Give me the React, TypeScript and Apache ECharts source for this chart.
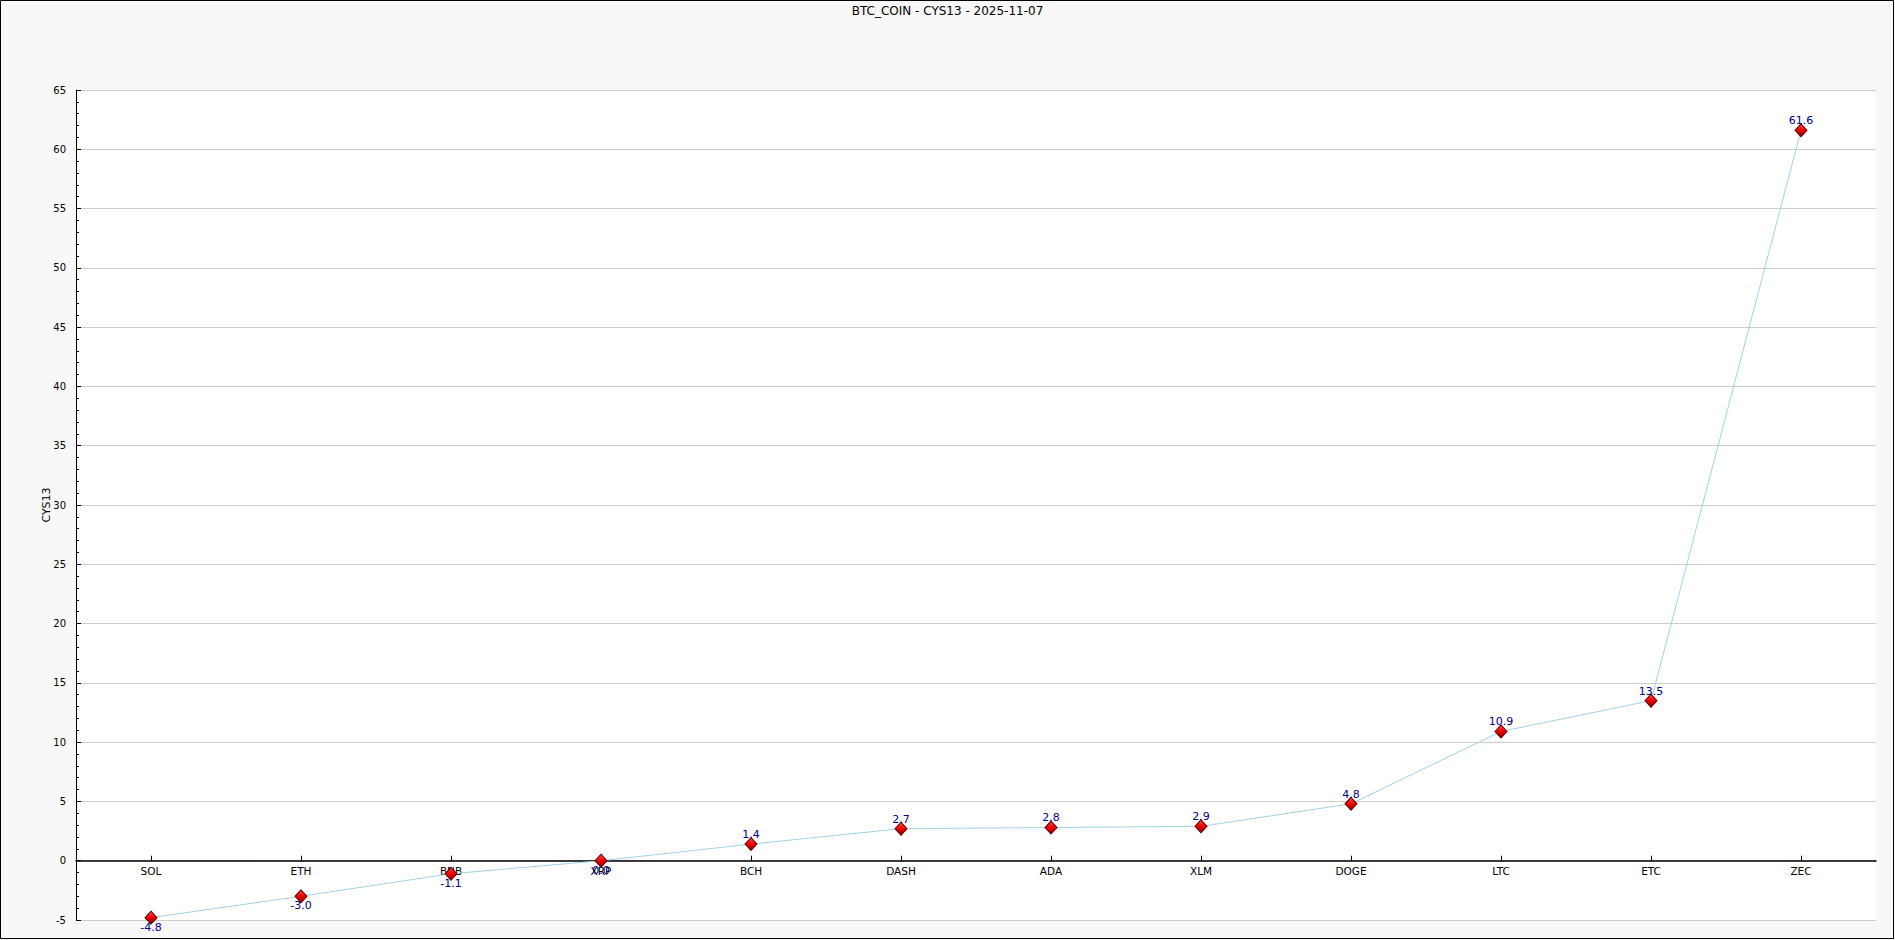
import React, { useEffect, useRef } from "react";
import * as echarts from "echarts";

const TITLE = "BTC_COIN - CYS13 - 2025-11-07";
const Y_NAME = "CYS13";
const categories = ["SOL", "ETH", "BNB", "XRP", "BCH", "DASH", "ADA", "XLM", "DOGE", "LTC", "ETC", "ZEC"];
const values = [-4.8, -3.0, -1.1, 0.0, 1.4, 2.7, 2.8, 2.9, 4.8, 10.9, 13.5, 61.6];
const yMin = -5;
const yMax = 65;
const yInterval = 5;

const FONT = "DejaVu Sans";

export default function App() {
  const ref = useRef<HTMLDivElement>(null);

  useEffect(() => {
    if (!ref.current) return;
    const chart = echarts.init(ref.current, null, { renderer: "svg" });

    const data = values.map((v) => ({
      value: v,
      label: { position: v > 0 ? "top" : "bottom" },
    }));

    chart.setOption({
      animation: false,
      backgroundColor: "#f8f8f8",
      title: {
        text: TITLE,
        left: "center",
        top: 0,
        textStyle: { fontFamily: FONT, fontSize: 12, fontWeight: "normal", color: "#000" },
      },
      graphic: [
        {
          type: "rect",
          shape: { x: 0.5, y: 0.5, width: 1893, height: 938 },
          style: { fill: "none", stroke: "#000", lineWidth: 1 },
          silent: true,
          z: 100,
        },
      ],
      grid: {
        left: 76,
        right: 19,
        top: 90,
        bottom: 20,
        show: true,
        backgroundColor: "#ffffff",
        borderWidth: 0,
      },
      xAxis: {
        type: "category",
        data: categories,
        boundaryGap: true,
        axisLine: { onZero: true, lineStyle: { color: "#000", width: 1.5 } },
        axisTick: { show: true, inside: true, length: 5, alignWithLabel: true, lineStyle: { color: "#000" } },
        axisLabel: { fontFamily: FONT, fontSize: 10.5, color: "#000", margin: -55 },
        splitLine: { show: false },
      },
      yAxis: {
        type: "value",
        min: yMin,
        max: yMax,
        interval: yInterval,
        name: Y_NAME,
        nameLocation: "middle",
        nameGap: 24,
        nameMoveOverlap: false,
        nameTextStyle: { fontFamily: FONT, fontSize: 11, color: "#000" },
        axisLine: { show: true, lineStyle: { color: "#000", width: 1 } },
        axisTick: { show: true, inside: true, length: 5, lineStyle: { color: "#000" } },
        minorTick: { show: true, splitNumber: 5, length: 3, lineStyle: { color: "#000" } },
        axisLabel: { fontFamily: FONT, fontSize: 10, color: "#000", margin: 10 },
        splitLine: { show: true, lineStyle: { color: "#cccccc", width: 1 } },
      },
      series: [
        {
          type: "line",
          data,
          symbol: "diamond",
          symbolSize: [12, 13],
          showAllSymbol: true,
          lineStyle: { color: "#9fd3e6", width: 1 },
          itemStyle: {
            color: new echarts.graphic.LinearGradient(0, 0, 0, 1, [
              { offset: 0, color: "#ff4a4a" },
              { offset: 0.5, color: "#ee0000" },
              { offset: 1, color: "#8a0000" },
            ]),
            borderColor: "#600000",
            borderWidth: 1,
          },
          label: {
            show: true,
            fontFamily: FONT,
            fontSize: 11,
            color: "#00008b",
            distance: -3,
            formatter: (p: any) => Number(p.value).toFixed(1),
          },
          z: 3,
        },
      ],
    });

    return () => chart.dispose();
  }, []);

  return (
    <div
      ref={ref}
      style={{ position: "absolute", left: 0, top: 0, width: 1895, height: 940 }}
    />
  );
}
